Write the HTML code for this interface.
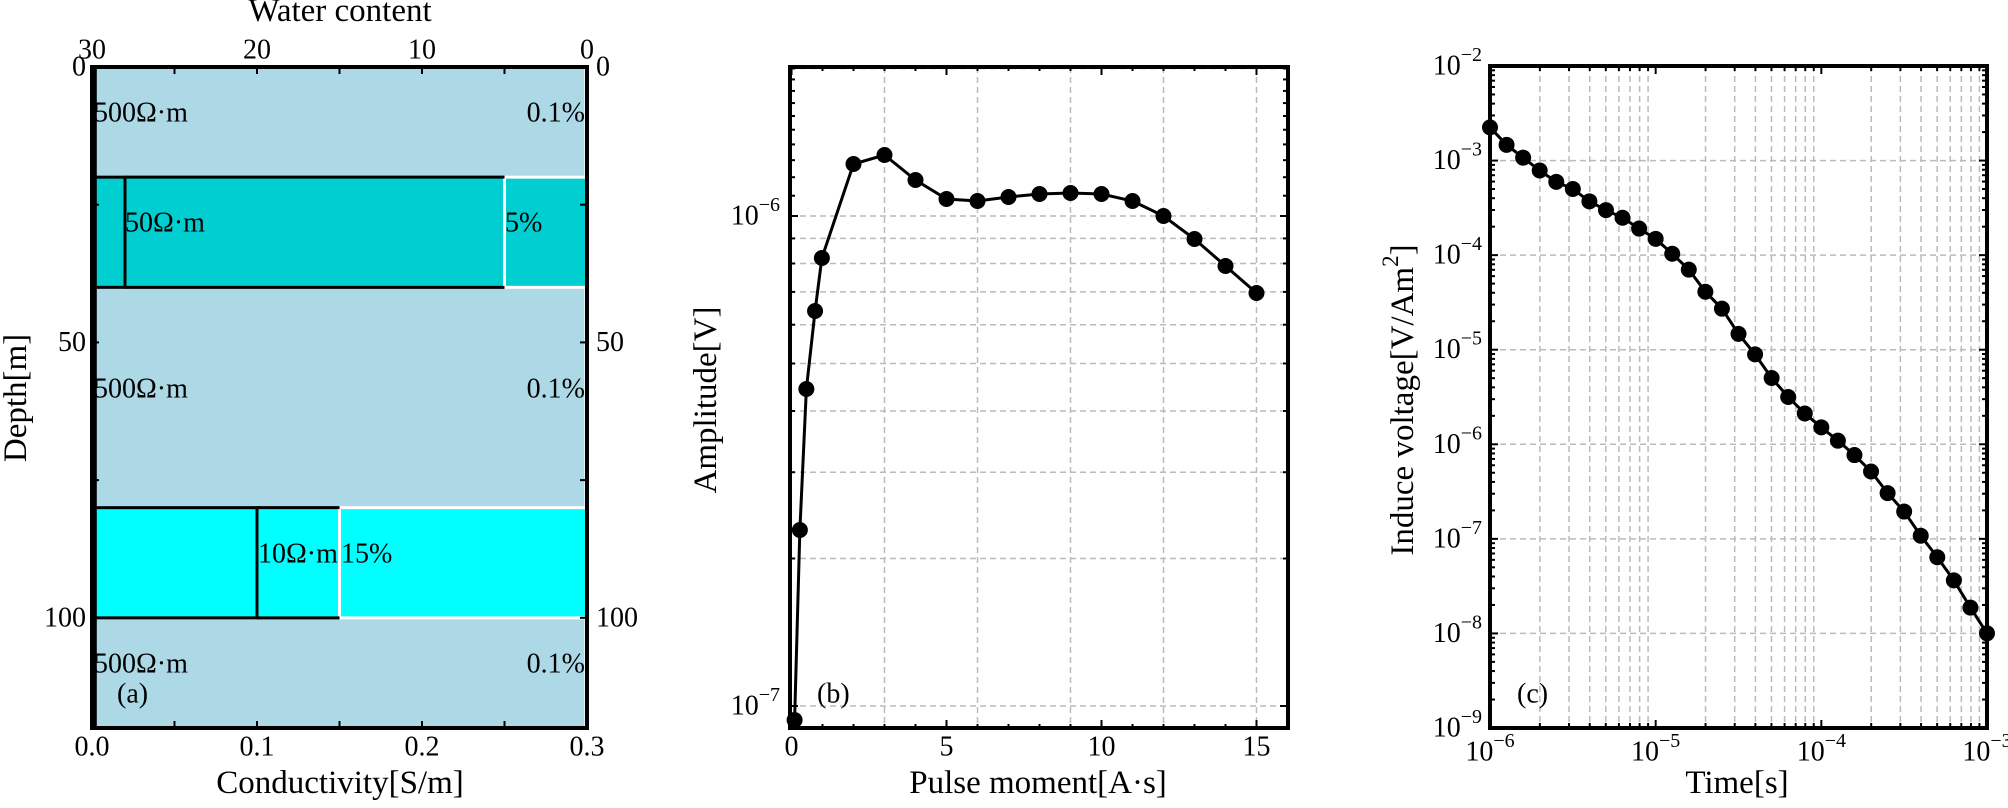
<!DOCTYPE html>
<html><head><meta charset="utf-8">
<style>
html,body{margin:0;padding:0;background:#fff;}
svg text{font-family:"Liberation Serif","DejaVu Serif",serif;fill:#000;}
</style></head>
<body>
<svg id="s" xmlns="http://www.w3.org/2000/svg" width="2008" height="803" viewBox="0 0 2008 803" font-family="Liberation Serif, serif"></svg>
<script>
const S=document.getElementById('s');
let html='';
function add(h){html+=h;}
function line(x1,y1,x2,y2,st){add(`<line x1="${x1}" y1="${y1}" x2="${x2}" y2="${y2}" ${st}/>`);}
function text(x,y,t,opt){opt=opt||{};add(`<text x="${x}" y="${y}" font-size="${opt.fs||28}" text-anchor="${opt.a||'start'}" dominant-baseline="central" ${opt.tr?`transform="${opt.tr}"`:''}>${t}</text>`);}
function pow(x,y,e,a){
  add(`<text x="${x}" y="${y}" font-size="28" text-anchor="${a}" dominant-baseline="central">10<tspan font-size="20" dy="-11">−${e}</tspan></text>`);
}
const grid='stroke="#bbbbbb" stroke-width="1.5" stroke-dasharray="6,4"';
const tk='stroke="#000" stroke-width="2"';

// ---------- Panel a ----------
{
const L=92,R=587,T=67,B=728;
const X=c=>L+c/0.3*(R-L), W=w=>R-w/30*(R-L), Y=d=>T+d*(B-T)/120;
add(`<rect x="${L}" y="${T}" width="${R-L}" height="${B-T}" fill="#add8e6"/>`);
add(`<rect x="${L}" y="${Y(20)}" width="${R-L}" height="${Y(40)-Y(20)}" fill="#00ced1"/>`);
add(`<rect x="${L}" y="${Y(80)}" width="${R-L}" height="${Y(100)-Y(80)}" fill="#00ffff"/>`);
add(`<rect x="${W(5)}" y="${Y(20)}" width="${R-W(5)}" height="${Y(40)-Y(20)}" fill="none" stroke="#fff" stroke-width="3"/>`);
add(`<rect x="${W(15)}" y="${Y(80)}" width="${R-W(15)}" height="${Y(100)-Y(80)}" fill="none" stroke="#fff" stroke-width="3"/>`);
[[0,20],[40,80],[100,120]].forEach(([a,b])=>add(`<rect x="${W(0.1)}" y="${Y(a)}" width="${R-W(0.1)}" height="${Y(b)-Y(a)}" fill="none" stroke="#fff" stroke-width="2"/>`));
line(X(0.002),T,X(0.002),B,'stroke="#000" stroke-width="3"');
add(`<rect x="${L}" y="${Y(20)}" width="${X(0.02)-L}" height="${Y(40)-Y(20)}" fill="none" stroke="#000" stroke-width="3"/>`);
line(X(0.02),Y(20),W(5),Y(20),'stroke="#000" stroke-width="3"');
line(X(0.02),Y(40),W(5),Y(40),'stroke="#000" stroke-width="3"');
add(`<rect x="${L}" y="${Y(80)}" width="${X(0.1)-L}" height="${Y(100)-Y(80)}" fill="none" stroke="#000" stroke-width="3"/>`);
line(X(0.1),Y(80),W(15),Y(80),'stroke="#000" stroke-width="3"');
line(X(0.1),Y(100),W(15),Y(100),'stroke="#000" stroke-width="3"');
for(let c=0;c<=0.3001;c+=0.05){const x=X(c);line(x,B,x,B-7,tk);}
for(let w=0;w<=30;w+=5){const x=W(w);line(x,T,x,T+7,tk);}
for(let d=0;d<=120;d+=25){const y=Y(d);line(L,y,L+7,y,tk);line(R,y,R-7,y,tk);}
add(`<rect x="${L}" y="${T}" width="${R-L}" height="${B-T}" fill="none" stroke="#000" stroke-width="4"/>`);
['0.0','0.1','0.2','0.3'].forEach((t,i)=>text(X(i*0.1),747,t,{a:'middle'}));
[30,20,10,0].forEach(w=>text(W(w),50,w,{a:'middle'}));
[[0,'0'],[50,'50'],[100,'100']].forEach(([d,t])=>{text(86,Y(d),t,{a:'end'});text(596,Y(d),t,{a:'start'});});
text(340,783,'Conductivity[S/m]',{a:'middle',fs:33});
text(340,11,'Water content',{a:'middle',fs:33});
text(16,398,'Depth[m]',{a:'middle',fs:33,tr:'rotate(-90 16 398)'});
[113,389,664].forEach(y=>{text(94,y,'500Ω·m');text(585,y,'0.1%',{a:'end'});});
text(125,223,'50Ω·m');text(505,223,'5%');
text(258,554,'10Ω·m');text(341,554,'15%');
text(117,694,'(a)');
}

// ---------- Panel b ----------
{
const L=790,R=1288,T=67,B=728;
const X=v=>791.5+v*31, Y=v=>216-(Math.log10(v)+6)*490;
for(let m=2;m<=10;m++){const y=Y(m*1e-7);line(L,y,R,y,grid);}
line(L,Y(2e-6),R,Y(2e-6),grid);
line(L,Y(1e-7),R,Y(1e-7),grid);
[3,6,9,12,15].forEach(v=>line(X(v),T,X(v),B,grid));
for(let v=0;v<=16;v++){const x=X(v);line(x,B,x,B-(v%5==0?8:4),tk);line(x,T,x,T+(v%5==0?8:4),tk);}
for(let m=1;m<=20;m++){const y=Y(m*1e-7);if(y<T||y>B)continue;const maj=(m==1||m==10);line(L,y,L+(maj?8:5),y,tk);line(R,y,R-(maj?8:5),y,tk);}
const pts=[[0.1,720],[0.27,530],[0.48,389],[0.76,311],[0.98,258],[2,164],[3,155],[4,180],[5,199],[6,201],[7,197],[8,194],[9,193],[10,194],[11,201],[12,216],[13,239],[14,266],[15,293]];
add(`<polyline points="${pts.map(p=>X(p[0])+','+p[1]).join(' ')}" fill="none" stroke="#000" stroke-width="3"/>`);
pts.forEach(p=>add(`<circle cx="${X(p[0])}" cy="${p[1]}" r="8" fill="#000"/>`));
add(`<rect x="${L}" y="${T}" width="${R-L}" height="${B-T}" fill="none" stroke="#000" stroke-width="4"/>`);
[0,5,10,15].forEach(v=>text(X(v),747,v,{a:'middle'}));
pow(780,216,6,'end');pow(780,706,7,'end');
text(1038,783,'Pulse moment[A·s]',{a:'middle',fs:33});
text(706,400,'Amplitude[V]',{a:'middle',fs:33,tr:'rotate(-90 706 400)'});
text(817,694,'(b)');
}

// ---------- Panel c ----------
{
const L=1490,R=1987,T=66,B=728;
const X=v=>L+(Math.log10(v)+6)*(R-L)/3, Y=v=>T+(-2-Math.log10(v))*(B-T)/7;
for(let e=-6;e<-3;e++)for(let m=1;m<=9;m++){const x=X(m*Math.pow(10,e));if(m>1)line(x,T,x,B,grid);line(x,B,x,B-(m==1?8:5),tk);line(x,T,x,T+(m==1?8:5),tk);}
for(let e=-8;e<=-3;e++)line(L,Y(Math.pow(10,e)),R,Y(Math.pow(10,e)),grid);
for(let e=-9;e<-2;e++)for(let m=1;m<=9;m++){const y=Y(m*Math.pow(10,e));line(L,y,L+(m==1?8:5),y,tk);line(R,y,R-(m==1?8:5),y,tk);}
const zy=[248,282,307,332,354,368,392,409,424,445,465,494,525,568,601,650,690,736,773,805,832,858,886,918,960,996,1043,1085,1130,1183,1233];
const pts=zy.map((z,k)=>[X(Math.pow(10,-6+0.1*k)),z/1.947]);
add(`<polyline points="${pts.map(p=>p[0]+','+p[1]).join(' ')}" fill="none" stroke="#000" stroke-width="3"/>`);
pts.forEach(p=>add(`<circle cx="${p[0]}" cy="${p[1]}" r="8" fill="#000"/>`));
add(`<rect x="${L}" y="${T}" width="${R-L}" height="${B-T}" fill="none" stroke="#000" stroke-width="4"/>`);
for(let e=2;e<=9;e++)pow(1482,Y(Math.pow(10,-e)),e,'end');
[6,5,4,3].forEach(e=>pow(X(Math.pow(10,-e)),752,e,'middle'));
text(1737,783,'Time[s]',{a:'middle',fs:33});
add(`<text x="1403" y="400" font-size="33" text-anchor="middle" dominant-baseline="central" transform="rotate(-90 1403 400)">Induce voltage[V/Am<tspan font-size="23" dy="-13">2</tspan><tspan dy="13">]</tspan></text>`);
text(1517,694,'(c)');
}
S.innerHTML=html;
</script>
</body></html>
